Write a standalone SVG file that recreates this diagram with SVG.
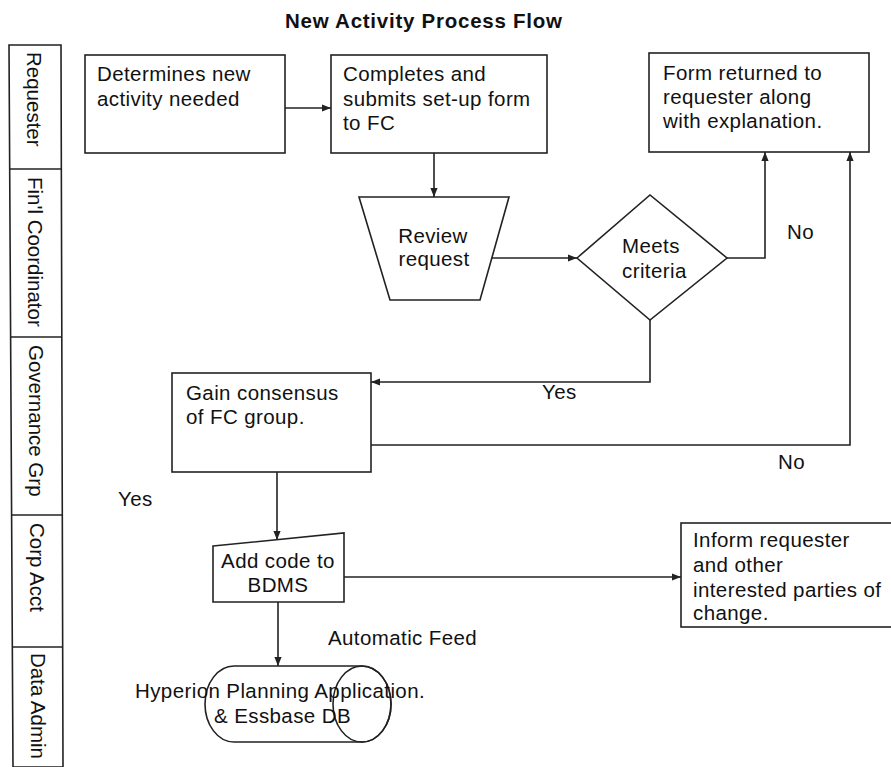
<svg xmlns="http://www.w3.org/2000/svg" width="891" height="767" viewBox="0 0 891 767">
<style>
  .t { font-family: "Liberation Sans", Arial, sans-serif; font-size: 20.5px; fill: #111; letter-spacing: 0.4px; }
  .lane { font-family: "Liberation Sans", Arial, sans-serif; font-size: 20.5px; fill: #111; }
  .title { font-family: "Liberation Sans", Arial, sans-serif; font-size: 20.5px; font-weight: bold; fill: #111; letter-spacing: 0.75px; }
  .shape { fill: #fff; stroke: #222; stroke-width: 1.6; }
  .conn { fill: none; stroke: #222; stroke-width: 1.6; }
  .arr { marker-end: url(#ah); }
</style>
<defs>
  <marker id="ah" viewBox="0 0 10 10" refX="10" refY="5" markerWidth="9" markerHeight="9" markerUnits="userSpaceOnUse" orient="auto">
    <path d="M0,1 L10,5 L0,9 z" fill="#222"/>
  </marker>
</defs>
<rect width="891" height="767" fill="#fff"/>

<text class="title" x="285" y="28">New Activity Process Flow</text>

<g id="lanes">
  <polygon class="shape" points="9,45 61,45 63,767 13,767"/>
  <line class="conn" x1="9.5" y1="169" x2="61.5" y2="169"/>
  <line class="conn" x1="10" y1="337" x2="62" y2="337"/>
  <line class="conn" x1="11" y1="515" x2="62.5" y2="515"/>
  <line class="conn" x1="12" y1="647" x2="63" y2="647"/>
  <text class="lane" transform="translate(27,52) rotate(90)">Requester</text>
  <text class="lane" transform="translate(28,177) rotate(90)">Fin'l Coordinator</text>
  <text class="lane" transform="translate(29,345) rotate(90)">Governance Grp</text>
  <text class="lane" transform="translate(30,523) rotate(90)">Corp Acct</text>
  <text class="lane" transform="translate(31,653) rotate(90)">Data Admin</text>
</g>

<g id="connectors">
  <line class="conn arr" x1="285" y1="108" x2="331" y2="108"/>
  <line class="conn arr" x1="434" y1="153" x2="434" y2="197"/>
  <line class="conn arr" x1="492" y1="258" x2="577" y2="258"/>
  <polyline class="conn arr" points="727,258 765,258 765,152"/>
  <polyline class="conn arr" points="650,320 650,382 371,382"/>
  <polyline class="conn arr" points="371,445 850,445 850,152"/>
  <line class="conn arr" x1="277" y1="472" x2="277" y2="540"/>
  <line class="conn arr" x1="344" y1="577" x2="681" y2="577"/>
  <line class="conn arr" x1="278" y1="602" x2="278" y2="666"/>
  <text class="t" x="787" y="239">No</text>
  <text class="t" x="542" y="399">Yes</text>
  <text class="t" x="778" y="469">No</text>
  <text class="t" x="118" y="506">Yes</text>
  <text class="t" x="328" y="645">Automatic Feed</text>
</g>

<g id="n1">
  <rect class="shape" x="85" y="55" width="200" height="98"/>
  <text class="t" x="97" y="81">Determines new</text>
  <text class="t" x="97" y="106">activity needed</text>
</g>

<g id="n2">
  <rect class="shape" x="331" y="55" width="216" height="98"/>
  <text class="t" x="343" y="81">Completes and</text>
  <text class="t" x="343" y="106">submits set-up form</text>
  <text class="t" x="343" y="130">to FC</text>
</g>

<g id="n3">
  <rect class="shape" x="649" y="53" width="220" height="99"/>
  <text class="t" x="663" y="80">Form returned to</text>
  <text class="t" x="663" y="104">requester along</text>
  <text class="t" x="663" y="128">with explanation.</text>
</g>

<g id="n4">
  <polygon class="shape" points="359,197 509,197 480,300 390,300"/>
  <text class="t" x="433" y="243" text-anchor="middle">Review</text>
  <text class="t" x="434" y="266" text-anchor="middle">request</text>
</g>

<g id="n5">
  <polygon class="shape" points="577,258 650,195 727,258 650,320"/>
  <text class="t" x="622" y="253">Meets</text>
  <text class="t" x="622" y="278">criteria</text>
</g>

<g id="n6">
  <rect class="shape" x="172" y="373" width="199" height="99"/>
  <text class="t" x="186" y="400">Gain consensus</text>
  <text class="t" x="186" y="424">of FC group.</text>
</g>

<g id="n7">
  <polygon class="shape" points="213,546 344,533 344,602 213,602"/>
  <text class="t" x="278" y="568" text-anchor="middle">Add code to</text>
  <text class="t" x="278" y="592" text-anchor="middle">BDMS</text>
</g>

<g id="n8">
  <rect class="shape" x="681" y="523" width="230" height="104"/>
  <text class="t" x="693" y="547">Inform requester</text>
  <text class="t" x="693" y="572">and other</text>
  <text class="t" x="693" y="597">interested parties of</text>
  <text class="t" x="693" y="620">change.</text>
</g>

<g id="n9">
  <path class="shape" d="M234,666 L362,666 A29,38 0 0 1 362,742 L234,742 A29,38 0 0 1 234,666 Z"/>
  <ellipse class="shape" cx="362" cy="704" rx="29" ry="38" fill="none" style="fill:none"/>
  <text class="t" x="135" y="698">Hyperion Planning Application.</text>
  <text class="t" x="214" y="723">&amp; Essbase DB</text>
</g>
</svg>
